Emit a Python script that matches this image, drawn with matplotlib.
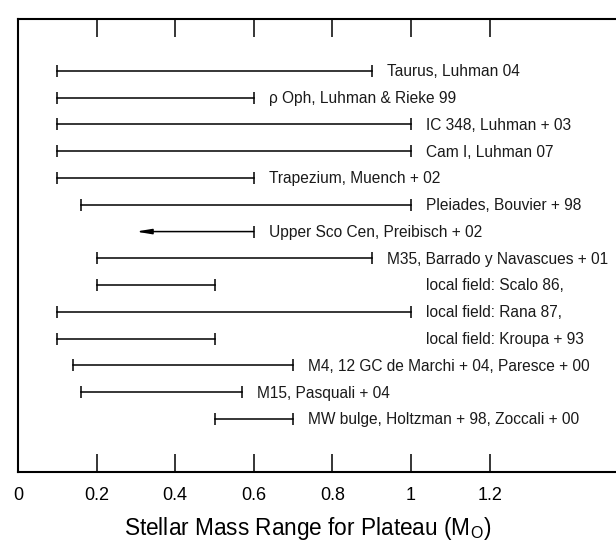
import matplotlib
matplotlib.use("Agg")
import matplotlib.pyplot as plt

plt.rcParams['font.family'] = ['Liberation Sans', 'DejaVu Sans']
plt.rcParams['mathtext.fontset'] = 'custom'
plt.rcParams['mathtext.rm'] = 'Liberation Sans'
plt.rcParams['mathtext.it'] = 'Liberation Sans'

labels = [
    "Taurus, Luhman 04",
    "\u03c1 Oph, Luhman & Rieke 99",
    "IC 348, Luhman + 03",
    "Cam I, Luhman 07",
    "Trapezium, Muench + 02",
    "Pleiades, Bouvier + 98",
    "Upper Sco Cen, Preibisch + 02",
    "M35, Barrado y Navascues + 01",
    "local field: Scalo 86,",
    "local field: Rana 87,",
    "local field: Kroupa + 93",
    "M4, 12 GC de Marchi + 04, Paresce + 00",
    "M15, Pasquali + 04",
    "MW bulge, Holtzman + 98, Zoccali + 00",
]
low = [0.1, 0.1, 0.1, 0.1, 0.1, 0.16, 0.3, 0.2, 0.2, 0.1, 0.1, 0.14, 0.16, 0.5]
high = [0.9, 0.6, 1.0, 1.0, 0.6, 1.0, 0.6, 0.9, 0.5, 1.0, 0.5, 0.7, 0.57, 0.7]
upper_limit_only = [False] * 6 + [True] + [False] * 7
xticks = [0, 0.2, 0.4, 0.6, 0.8, 1.0, 1.2]
xticklabels = ["0", "0.2", "0.4", "0.6", "0.8", "1", "1.2"]

W, H = 616, 543
fig = plt.figure(figsize=(W / 100, H / 100), dpi=100)
px_per_unit = 393.0
x0_px, top_px, bot_px = 18, 19, 472
xmax = 1.62
ax = fig.add_axes([x0_px / W, 1 - bot_px / H, xmax * px_per_unit / W, (bot_px - top_px) / H])

lw = 1.1
local_max = max(h for l, h in zip(labels, high) if l.startswith("local field"))
for i, (lab, lo, hi, ul) in enumerate(zip(labels, low, high, upper_limit_only)):
    if ul:
        ax.annotate('', xy=(lo, i), xytext=(hi, i),
                    arrowprops=dict(arrowstyle='-|>,head_length=0.9,head_width=0.15',
                                    color='black', lw=lw, shrinkA=0, shrinkB=0))
        ax.plot([hi], [i], marker='|', color='black', ms=8, mew=lw)
    else:
        ax.plot([lo, hi], [i, i], color='black', lw=lw, marker='|', ms=8, mew=lw)
    lx = local_max if lab.startswith("local field") else hi
    ax.annotate(lab, xy=(lx, i + 0.03), xytext=(11, 0), textcoords='offset points',
                ha='left', va='center', fontsize=11.2, color='#1a1a1a')

ax.set_xlim(0, xmax)
ax.set_ylim(14.98, -1.94)
ax.set_xticks(xticks)
ax.set_xticklabels(xticklabels, fontsize=13)
ax.set_yticks([])
ax.tick_params(axis='x', direction='in', length=13, width=1.1, top=True, bottom=True,
               labeltop=False, pad=11)
for s in ax.spines.values():
    s.set_linewidth(1.5)
fig.text(308 / W, 1 - 529 / H, "Stellar Mass Range for Plateau (M$_\\mathrm{O}$)",
         fontsize=16.3, ha='center', va='center')

fig.savefig("out.png", dpi=100)
